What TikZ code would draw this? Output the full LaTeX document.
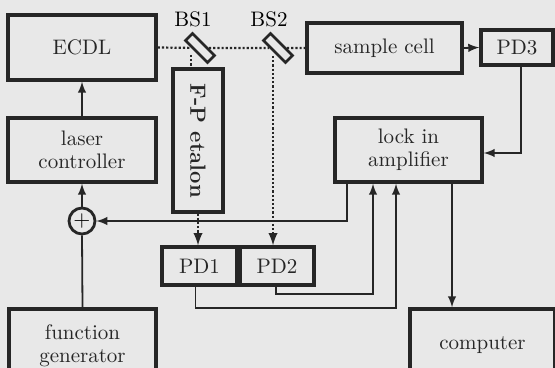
\documentclass[tikz,border=0pt]{standalone}
\usepackage{graphicx}
\usetikzlibrary{calc,positioning,arrows}
\tikzset{>=latex}
\tikzset{
  box/.style={draw=black!85, line width=1.7pt, align=center, inner sep=0pt, text=black!85},
  beam/.style={draw=black!85, densely dotted, line width=1.1pt},
  sig/.style={draw=black!85, line width=0.9pt},
  mirror/.style={draw=black!85, line width=1.3pt, rotate=-45, minimum width=15.5pt,
    minimum height=5pt, inner sep=0pt},
}

\begin{document}
\begin{tikzpicture}[x=0.5pt, y=-0.5pt, font=\fontsize{10.5}{11.5}\selectfont]
  \fill[black!9] (0,0) rectangle (555,368);
  \useasboundingbox (0,0) rectangle (555,368);
  % laser side
  \node[box, minimum width=74pt, minimum height=32.5pt] (ecdl) at (82,47.5) {ECDL};
  \node[box, minimum width=74pt, minimum height=32pt] (lc) at (82,150) {laser\\controller};
  \node[draw=black!85, circle, line width=1.4pt, minimum size=13pt, inner sep=0pt] (sum) at (82,221) {$+$};
  \node[box, minimum width=73.5pt, minimum height=36.5pt] (fg) at (82.5,345.5) {function\\generator};
  % optics
  \node[mirror] (bs1) at (200,48) {};
  \node[mirror] (bs2) at (278,48) {};
  \node (bs1lab) at (193,19) {BS1};
  \node (bs2lab) at (269,19) {BS2};
  \node[box, minimum width=25pt, minimum height=71.5pt] (etalon) at (198,140.5) {\rotatebox{-90}{\fontsize{11}{13}\selectfont\bfseries F-P etalon}};
  \node[box, minimum width=77.5pt, minimum height=25pt] (sample) at (384.5,48) {sample cell};
  \node[box, minimum width=36pt, minimum height=17.5pt] (pd3) at (517,47.5) {PD3};
  \node[box, minimum width=37.5pt, minimum height=19pt] (pd1) at (199.5,266) {PD1};
  \node[box, minimum width=37pt, minimum height=19pt] (pd2) at (277,266) {PD2};
  % electronics
  \node[box, minimum width=73.5pt, minimum height=32pt] (lockin) at (408.5,150) {lock in\\amplifier};
  \node[box, minimum width=72.5pt, minimum height=36.5pt] (comp) at (482.5,345.5) {computer};
  % beams
  \coordinate (bs1out) at (191,55);
  \coordinate (bs2out) at (273,56);
  \draw[beam] (ecdl.east) -- (bs1) -- (bs2) -- (sample.west);
  \draw[beam] (bs1out) -- (bs1out |- etalon.north);
  \draw[beam, ->] (etalon.south) -- (etalon.south |- pd1.north);
  \draw[beam, ->] (bs2out) -- (bs2out |- pd2.north);
  % signals
  \coordinate (pcout) at ($(lockin.south)+(43.5,0)$);
  \draw[sig, ->] (sample.east) -- (pd3.west);
  \draw[sig, ->] ($(pd3.south)+(4,0)$) |- ($(lockin.east)+(0,3)$);
  \draw[sig, ->] ($(lockin.south west)+(14,0)$) |- (sum.east);
  \draw[sig, ->] (sum.north) -- (lc.south);
  \draw[sig, ->] (lc.north) -- (ecdl.south);
  \draw[sig] (fg.north) -- (sum.south);
  \draw[sig, ->] ($(pd1.south)+(-4,0)$) -- ++(0,21) -| ($(lockin.south)+(-12.5,0)$);
  \draw[sig, ->] ($(pd2.south)+(-1,0)$) -- ++(0,7) -| ($(lockin.south)+(-35.5,0)$);
  \draw[sig, ->] (pcout) -- (pcout |- comp.north);
\end{tikzpicture}
\end{document}
